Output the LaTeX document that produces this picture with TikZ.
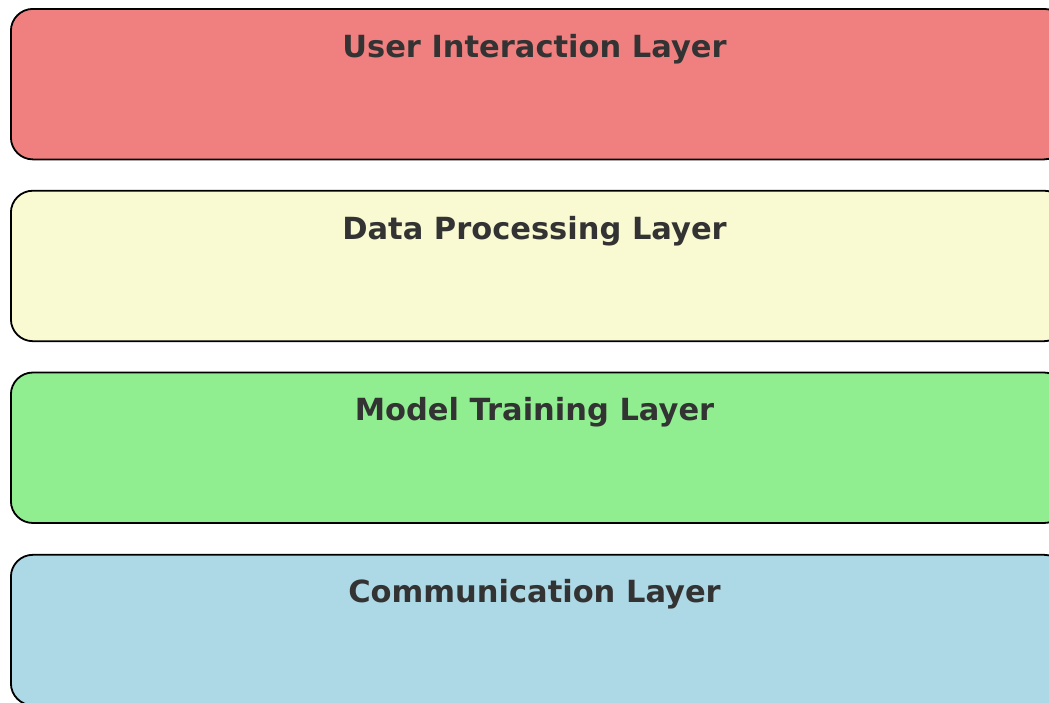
\documentclass[tikz,border=0pt]{standalone}
\usepackage{fontspec}
\setmainfont{DejaVu Sans}
\usepackage{xcolor}
\usetikzlibrary{positioning}

\definecolor{usercol}{HTML}{F08080}
\definecolor{datacol}{HTML}{FAFAD2}
\definecolor{modelcol}{HTML}{90EE90}
\definecolor{commcol}{HTML}{ADD8E6}
\definecolor{titlegray}{HTML}{333333}

\begin{document}
\begin{tikzpicture}[x=1pt,y=-1pt,
  layerbox/.style={draw=black, line width=1.8pt, rounded corners=22pt,
    minimum width=1055pt, minimum height=150.5pt, anchor=north west, inner sep=0pt},
  layertitle/.style={font=\bfseries\fontsize{30.5}{36}\selectfont, text=titlegray,
    anchor=base, inner sep=0pt}]
\useasboundingbox (0,0) rectangle (1049,702);
\clip (0,0) rectangle (1049,702);
% layers
  \node (user) [layerbox, fill=usercol] at (10,8) {};
  \node (data) [layerbox, fill=datacol, below=29.5pt of user.south west, anchor=north west] {};
  \node (model) [layerbox, fill=modelcol, below=29.5pt of data.south west, anchor=north west] {};
  \node (comm) [layerbox, fill=commcol, below=30pt of model.south west, anchor=north west] {};
% titles
  \node (usertitle) [layertitle] at (534.5,57) {User Interaction Layer};
  \node (datatitle) [layertitle] at (534.5,239) {Data Processing Layer};
  \node (modeltitle) [layertitle] at (534.5,420) {Model Training Layer};
  \node (commtitle) [layertitle] at (534.5,602) {Communication Layer};
\end{tikzpicture}
\end{document}
